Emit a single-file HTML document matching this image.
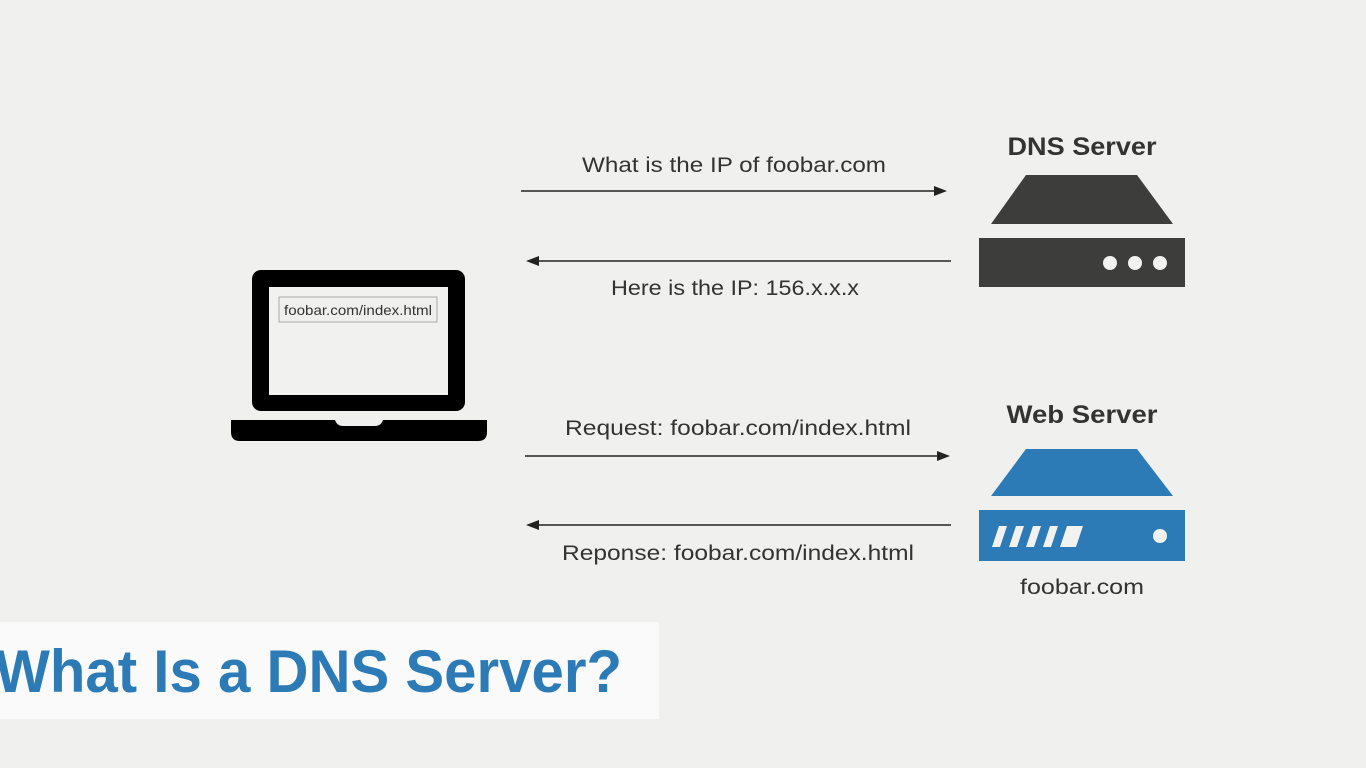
<!DOCTYPE html>
<html><head><meta charset="utf-8"><style>
html,body{margin:0;padding:0;background:#f0f0ee;}
svg{display:block}
</style></head><body>
<svg width="1366" height="768" viewBox="0 0 1366 768" xmlns="http://www.w3.org/2000/svg" font-family="Liberation Sans, sans-serif">
<rect width="1366" height="768" fill="#f0f0ee"/>
<!-- laptop -->
<rect x="252" y="270" width="213" height="141" rx="9" fill="#000"/>
<rect x="269" y="287" width="179" height="108" fill="#f1f1ef"/>
<rect x="279" y="297" width="158" height="25" fill="#efefed" stroke="#aaa" stroke-width="1"/>
<text x="358" y="315" font-size="14" fill="#333" text-anchor="middle" textLength="148" lengthAdjust="spacingAndGlyphs">foobar.com/index.html</text>
<path d="M231 420 H335 Q337 426 343 426 H375 Q381 426 383 420 H487 V432 Q487 441 478 441 H240 Q231 441 231 432 Z" fill="#000"/>
<!-- arrows -->
<g stroke="#222" stroke-width="1.5" fill="#222">
<line x1="521" y1="191" x2="938" y2="191"/><path d="M947 191 L934 186 L934 196 Z" stroke="none"/>
<line x1="535" y1="261" x2="951" y2="261"/><path d="M526 261 L539 256 L539 266 Z" stroke="none"/>
<line x1="525" y1="456" x2="941" y2="456"/><path d="M950 456 L937 451 L937 461 Z" stroke="none"/>
<line x1="535" y1="525" x2="951" y2="525"/><path d="M526 525 L539 520 L539 530 Z" stroke="none"/>
</g>
<g font-size="21" fill="#333" text-anchor="middle">
<text x="734" y="172" textLength="304" lengthAdjust="spacingAndGlyphs">What is the IP of foobar.com</text>
<text x="735" y="295" textLength="248" lengthAdjust="spacingAndGlyphs">Here is the IP: 156.x.x.x</text>
<text x="738" y="435" textLength="346" lengthAdjust="spacingAndGlyphs">Request: foobar.com/index.html</text>
<text x="738" y="560" textLength="352" lengthAdjust="spacingAndGlyphs">Reponse: foobar.com/index.html</text>
<text x="1082" y="594" textLength="124" lengthAdjust="spacingAndGlyphs">foobar.com</text>
</g>
<g font-size="25" font-weight="bold" fill="#333" text-anchor="middle">
<text x="1082" y="155" textLength="149" lengthAdjust="spacingAndGlyphs">DNS Server</text>
<text x="1082" y="423" textLength="151" lengthAdjust="spacingAndGlyphs">Web Server</text>
</g>
<!-- DNS server -->
<path d="M1026 175 H1137 L1173 224 H991 Z" fill="#3d3d3b"/>
<rect x="979" y="238" width="206" height="49" fill="#3d3d3b"/>
<circle cx="1110" cy="263" r="7" fill="#f2f2f0"/>
<circle cx="1135" cy="263" r="7" fill="#f2f2f0"/>
<circle cx="1160" cy="263" r="7" fill="#f2f2f0"/>
<!-- Web server -->
<path d="M1026 449 H1137 L1173 496 H991 Z" fill="#2c7bb6"/>
<rect x="979" y="510" width="206" height="51" fill="#2c7bb6"/>
<g fill="#f2f2f0">
<path d="M999 526 H1007 L1000 547 H992 Z"/>
<path d="M1016 526 H1024 L1017 547 H1009 Z"/>
<path d="M1033 526 H1041 L1034 547 H1026 Z"/>
<path d="M1050 526 H1058 L1051 547 H1043 Z"/>
<path d="M1067 526 H1083 L1076 547 H1060 Z"/>
<circle cx="1160" cy="536" r="7"/>
</g>
<!-- title -->
<rect x="0" y="622" width="659" height="97" fill="#fafafa"/>
<text x="-5" y="692" font-size="60" font-weight="bold" fill="#2c7bb6" textLength="627" lengthAdjust="spacingAndGlyphs">What Is a DNS Server?</text>
</svg>
</body></html>
